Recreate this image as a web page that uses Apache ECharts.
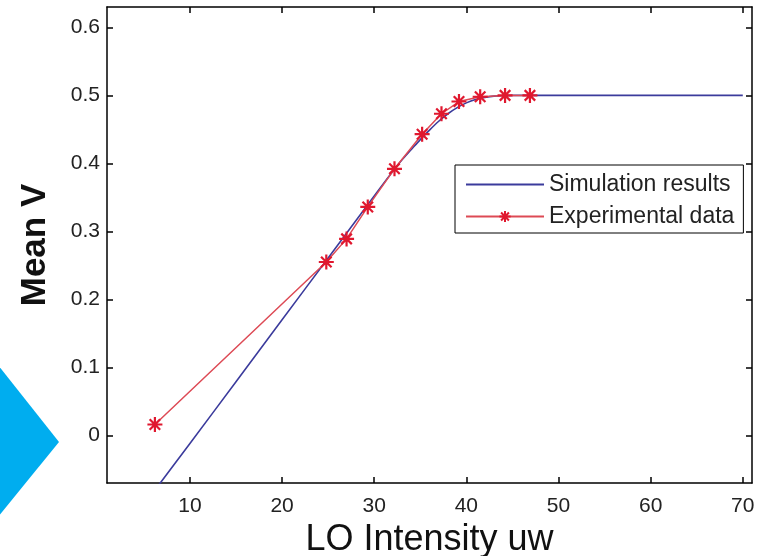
<!DOCTYPE html>
<html>
<head>
<meta charset="utf-8">
<script src="https://cdn.jsdelivr.net/npm/echarts@6/dist/echarts.min.js"></script>
<style>
html,body{margin:0;padding:0;background:#fff;}
#chart{width:765px;height:556px;}
</style>
</head>
<body>
<div id="chart"></div>
<script>
// ---- data ----
var xTicks = [10, 20, 30, 40, 50, 60, 70];
var yTicks = [0, 0.1, 0.2, 0.3, 0.4, 0.5, 0.6];

var simX = [5, 10, 15, 20, 25, 30, 32, 33, 34, 35, 36, 37, 38, 39, 40, 41, 42, 43, 44, 45, 50, 60, 70];
var simY = [-0.102, -0.012, 0.079, 0.170, 0.261, 0.352, 0.388, 0.405, 0.420, 0.435, 0.449, 0.462, 0.473, 0.482, 0.489, 0.494, 0.497, 0.499, 0.4995, 0.5, 0.5, 0.5, 0.5];

var expX = [6.2, 24.8, 27.0, 29.3, 32.2, 35.2, 37.3, 39.2, 41.5, 44.2, 46.9];
var expY = [0.016, 0.255, 0.289, 0.336, 0.392, 0.443, 0.473, 0.491, 0.498, 0.5, 0.5];

var seriesNames = ['Simulation results', 'Experimental data'];

function pairs(xs, ys) { return xs.map(function (x, i) { return [x, ys[i]]; }); }

var FONT = 'Liberation Sans, Arial, Helvetica, sans-serif';
var starPath = 'path://M10,0L10,20M0,10L20,10M3,3L17,17M3,17L17,3';

var axisLineStyle = { show: true, onZero: false, lineStyle: { color: '#000', width: 1.5 } };
function tickCfg(vals) {
  return { show: true, inside: true, length: 6, customValues: vals, lineStyle: { color: '#000', width: 1.5 } };
}

var chart = echarts.init(document.getElementById('chart'), null, { renderer: 'canvas' });
chart.setOption({
  backgroundColor: '#fff',
  animation: false,
  grid: { left: 107, right: 13, top: 7, bottom: 73, containLabel: false, outerBoundsMode: 'none' },
  graphic: [{
    type: 'polygon',
    shape: { points: [[-2, 365], [59, 442], [-2, 517]] },
    style: { fill: '#00adef' },
    z: 0
  }],
  legend: {
    data: seriesNames,
    orient: 'vertical',
    left: 455,
    top: 165,
    padding: [8, 9, 5, 10],
    itemGap: 9,
    itemWidth: 78,
    itemHeight: 14,
    borderColor: '#000',
    borderWidth: 1,
    backgroundColor: '#fff',
    textStyle: { fontFamily: FONT, fontSize: 23, color: '#222' }
  },
  xAxis: [{
    type: 'value', min: 1, max: 71, position: 'bottom',
    axisLine: axisLineStyle,
    axisTick: tickCfg(xTicks),
    axisLabel: { customValues: xTicks, fontFamily: FONT, fontSize: 21, color: '#222', margin: 13 },
    splitLine: { show: false },
    name: 'LO Intensity uw', nameLocation: 'middle', nameGap: 38,
    nameTextStyle: { fontFamily: FONT, fontSize: 36, color: '#111' }
  }, {
    type: 'value', min: 1, max: 71, position: 'top',
    axisLine: axisLineStyle,
    axisTick: tickCfg(xTicks),
    axisLabel: { show: false },
    splitLine: { show: false }
  }],
  yAxis: [{
    type: 'value', min: -0.07, max: 0.63, position: 'left',
    axisLine: axisLineStyle,
    axisTick: tickCfg(yTicks),
    axisLabel: { customValues: yTicks, fontFamily: FONT, fontSize: 21, color: '#222', margin: 7 },
    splitLine: { show: false },
    name: 'Mean V', nameLocation: 'middle', nameGap: 54, nameRotate: 90,
    nameTextStyle: { fontFamily: FONT, fontSize: 35, color: '#111', fontWeight: 'bold' }
  }, {
    type: 'value', min: -0.07, max: 0.63, position: 'right',
    axisLine: axisLineStyle,
    axisTick: tickCfg(yTicks),
    axisLabel: { show: false },
    splitLine: { show: false }
  }],
  series: [{
    name: seriesNames[0],
    type: 'line',
    xAxisIndex: 0, yAxisIndex: 0,
    data: pairs(simX, simY),
    smooth: 0.3,
    symbol: 'circle',
    showSymbol: false,
    clip: true,
    lineStyle: { color: '#3b3b9c', width: 1.6 },
    itemStyle: { color: '#3b3b9c', opacity: 0 },
    z: 2
  }, {
    name: seriesNames[1],
    type: 'line',
    xAxisIndex: 0, yAxisIndex: 0,
    data: pairs(expX, expY),
    symbol: starPath,
    symbolSize: 15,
    clip: true,
    lineStyle: { color: '#dd4a55', width: 1.5 },
    itemStyle: { color: '#e0182f', borderColor: '#e0182f', borderWidth: 2.2 },
    z: 3
  }]
});
</script>
</body>
</html>
